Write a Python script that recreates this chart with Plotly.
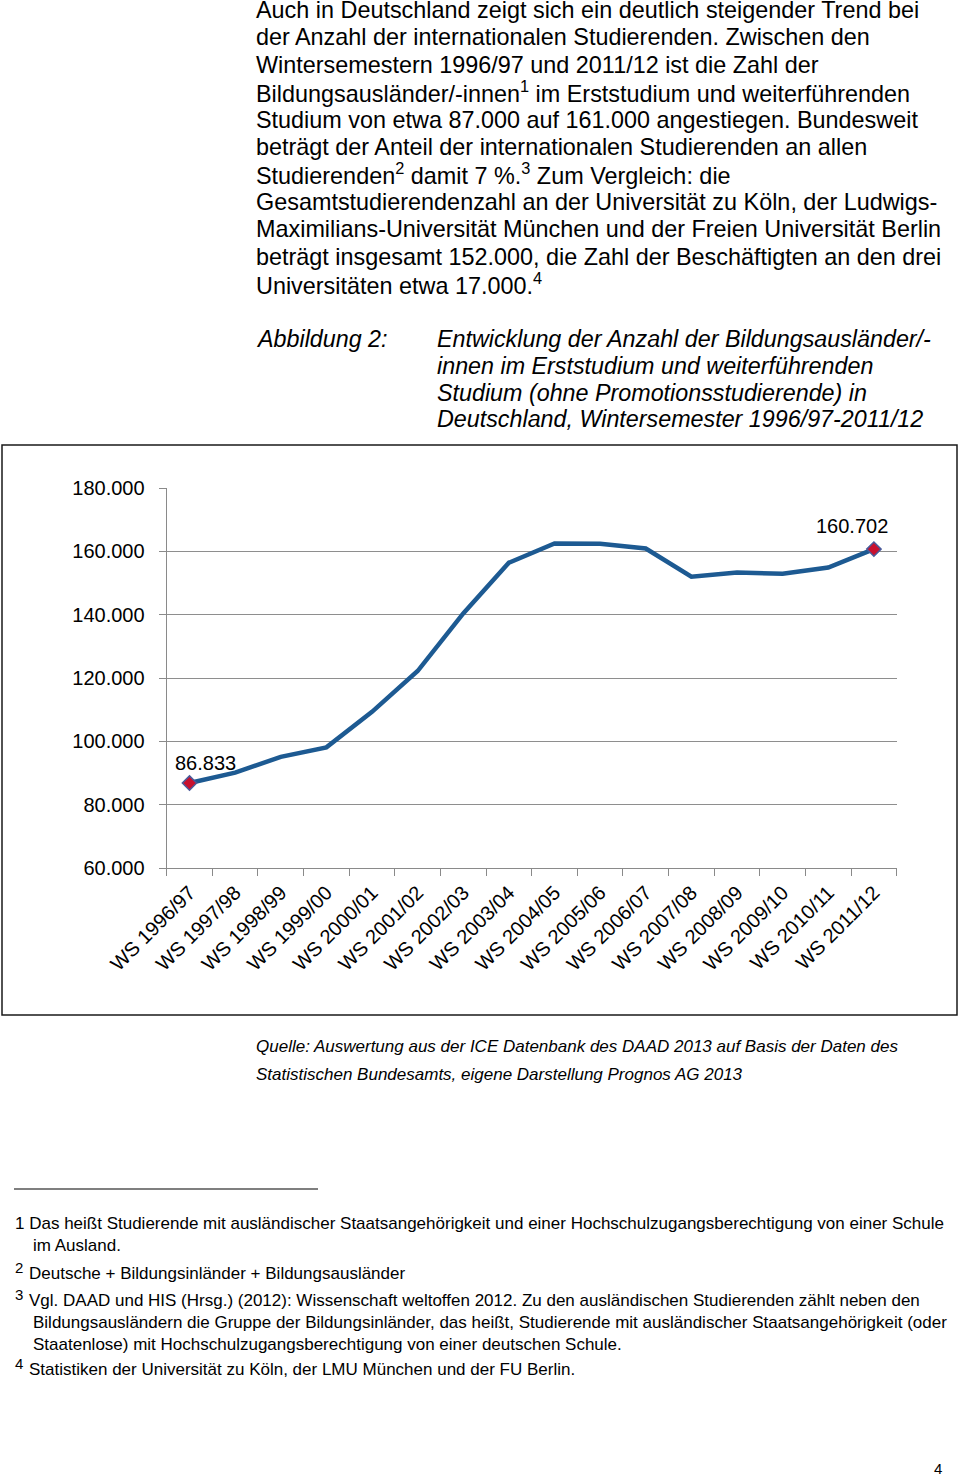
import plotly.graph_objects as go

W, H = 960, 1477

categories = ["WS 1996/97", "WS 1997/98", "WS 1998/99", "WS 1999/00", "WS 2000/01",
              "WS 2001/02", "WS 2002/03", "WS 2003/04", "WS 2004/05", "WS 2005/06",
              "WS 2006/07", "WS 2007/08", "WS 2008/09", "WS 2009/10", "WS 2010/11",
              "WS 2011/12"]
values = [86833, 90100, 95100, 98100, 109300, 122200, 140400, 156400, 162500, 162400,
          160900, 152000, 153300, 152900, 154900, 160702]
y_ticks = [60000, 80000, 100000, 120000, 140000, 160000, 180000]

body_lines = [
    "Auch in Deutschland zeigt sich ein deutlich steigender Trend bei",
    "der Anzahl der internationalen Studierenden. Zwischen den",
    "Wintersemestern 1996/97 und 2011/12 ist die Zahl der",
    "Bildungsausländer/-innen<sup>1</sup> im Erststudium und weiterführenden",
    "Studium von etwa 87.000 auf 161.000 angestiegen. Bundesweit",
    "beträgt der Anteil der internationalen Studierenden an allen",
    "Studierenden<sup>2</sup> damit 7 %.<sup>3</sup> Zum Vergleich: die",
    "Gesamtstudierendenzahl an der Universität zu Köln, der Ludwigs-",
    "Maximilians-Universität München und der Freien Universität Berlin",
    "beträgt insgesamt 152.000, die Zahl der Beschäftigten an den drei",
    "Universitäten etwa 17.000.<sup>4</sup>",
]
caption_label = "Abbildung 2:"
caption_lines = [
    "Entwicklung der Anzahl der Bildungsausländer/-",
    "innen im Erststudium und weiterführenden",
    "Studium (ohne Promotionsstudierende) in",
    "Deutschland, Wintersemester 1996/97-2011/12",
]
source_lines = [
    "Quelle: Auswertung aus der ICE Datenbank des DAAD 2013 auf Basis der Daten des",
    "Statistischen Bundesamts, eigene Darstellung Prognos AG 2013",
]
footnotes = [
    ("1", "Das heißt Studierende mit ausländischer Staatsangehörigkeit und einer Hochschulzugangsberechtigung von einer Schule",
     ["im Ausland."], False),
    ("2", "Deutsche + Bildungsinländer + Bildungsausländer", [], True),
    ("3", "Vgl. DAAD und HIS (Hrsg.) (2012): Wissenschaft weltoffen 2012. Zu den ausländischen Studierenden zählt neben den",
     ["Bildungsausländern die Gruppe der Bildungsinländer, das heißt, Studierende mit ausländischer Staatsangehörigkeit (oder",
      "Staatenlose) mit Hochschulzugangsberechtigung von einer deutschen Schule."], True),
    ("4", "Statistiken der Universität zu Köln, der LMU München und der FU Berlin.", [], True),
]
page_number = "4"

FONT = "Liberation Sans, Arial, sans-serif"


def px(x):
    return x / W


def py(y):
    return 1 - y / H


def de(v):
    return f"{v:,}".replace(",", ".")


fig = go.Figure()
fig.add_trace(go.Scatter(
    x=categories, y=values, mode="lines",
    line=dict(color="#1D5A92", width=4.5),
    hoverinfo="skip", showlegend=False,
))
end_idx = [0, len(values) - 1]
fig.add_trace(go.Scatter(
    x=[categories[i] for i in end_idx], y=[values[i] for i in end_idx], mode="markers",
    marker=dict(symbol="diamond", size=11, color="#C8102E",
                line=dict(color="#4A5A9A", width=1.5)),
    hoverinfo="skip", showlegend=False,
))

annotations = []
# data labels
for i, xs, ys in [(0, 16, 20), (len(values) - 1, -22, 23)]:
    annotations.append(dict(
        x=categories[i], y=values[i], xref="x", yref="y", text=de(values[i]),
        showarrow=False, xshift=xs, yshift=ys,
        font=dict(family=FONT, size=20, color="#000000"),
    ))

BODY_X = 254
body_y0, body_dy = 10, 27.4
for k, line in enumerate(body_lines):
    annotations.append(dict(
        x=px(BODY_X), y=py(body_y0 + k * body_dy), xref="paper", yref="paper",
        xanchor="left", yanchor="middle", text=line, showarrow=False,
        font=dict(family=FONT, size=23.4, color="#000000"),
    ))

annotations.append(dict(
    x=px(BODY_X), y=py(339), xref="paper", yref="paper", xanchor="left", yanchor="middle",
    text=f"<i>{caption_label}</i>", showarrow=False,
    font=dict(family=FONT, size=23.3, color="#000000"),
))
for k, line in enumerate(caption_lines):
    annotations.append(dict(
        x=px(435), y=py(339 + k * 26.8), xref="paper", yref="paper",
        xanchor="left", yanchor="middle", text=f"<i>{line}</i>", showarrow=False,
        font=dict(family=FONT, size=23.3, color="#000000"),
    ))

for k, line in enumerate(source_lines):
    annotations.append(dict(
        x=px(BODY_X), y=py(1046 + k * 28), xref="paper", yref="paper",
        xanchor="left", yanchor="middle", text=f"<i>{line}</i>", showarrow=False,
        font=dict(family=FONT, size=17, color="#000000"),
    ))

fn_y = {"1": 1223, "2": 1273, "3": 1300, "4": 1369}
for num, first, rest, sup in footnotes:
    y0 = fn_y[num]
    if sup:
        annotations.append(dict(
            x=px(13), y=py(y0 - 6), xref="paper", yref="paper", xanchor="left",
            yanchor="middle", text=num, showarrow=False,
            font=dict(family=FONT, size=15, color="#000000"),
        ))
        annotations.append(dict(
            x=px(27), y=py(y0), xref="paper", yref="paper", xanchor="left",
            yanchor="middle", text=first, showarrow=False,
            font=dict(family=FONT, size=17, color="#000000"),
        ))
    else:
        annotations.append(dict(
            x=px(13), y=py(y0), xref="paper", yref="paper", xanchor="left",
            yanchor="middle", text=f"{num} {first}", showarrow=False,
            font=dict(family=FONT, size=17, color="#000000"),
        ))
    for j, r in enumerate(rest):
        annotations.append(dict(
            x=px(31), y=py(y0 + (j + 1) * 22), xref="paper", yref="paper",
            xanchor="left", yanchor="middle", text=r, showarrow=False,
            font=dict(family=FONT, size=17, color="#000000"),
        ))

annotations.append(dict(
    x=px(938), y=py(1468), xref="paper", yref="paper", xanchor="center", yanchor="middle",
    text=page_number, showarrow=False, font=dict(family=FONT, size=15, color="#000000"),
))

shapes = [
    dict(type="rect", xref="paper", yref="paper", x0=px(2), x1=px(957), y0=py(445), y1=py(1015),
         line=dict(color="#1a1a1a", width=1.5), fillcolor="rgba(0,0,0,0)", layer="below"),
    dict(type="line", xref="paper", yref="paper", x0=px(14), x1=px(318), y0=py(1189), y1=py(1189),
         line=dict(color="#000000", width=1.2)),
]

fig.update_layout(
    width=W, height=H, margin=dict(l=0, r=0, t=0, b=0, autoexpand=False),
    paper_bgcolor="white", plot_bgcolor="white",
    separators=",.",
    font=dict(family=FONT, color="#000000"),
    xaxis=dict(
        domain=[px(166.7), px(896.7)], anchor="y", type="category",
        range=[-0.5, len(categories) - 0.5], automargin=False,
        tickson="boundaries", ticks="outside", ticklen=7, tickcolor="#8A8A8A", tickwidth=1.2,
        showline=True, linecolor="#8A8A8A", linewidth=1.2, showgrid=False,
        tickangle=-45, tickfont=dict(family=FONT, size=20, color="#000000"),
        ticklabelstandoff=4, fixedrange=True,
    ),
    yaxis=dict(
        domain=[py(868), py(488)], anchor="x", range=[60000, 180000], automargin=False,
        tickvals=y_ticks, tickformat=",d",
        ticks="outside", ticklen=7, tickcolor="#8A8A8A", tickwidth=1.2,
        showline=True, linecolor="#8A8A8A", linewidth=1.2,
        showgrid=True, gridcolor="#8E8E8E", gridwidth=1.2, zeroline=False,
        tickfont=dict(family=FONT, size=20, color="#000000"),
        ticklabelstandoff=10, fixedrange=True,
    ),
    annotations=annotations, shapes=shapes,
)

fig.write_html("out.html", config={"displayModeBar": False},
               post_script="document.body.style.margin='0px';document.body.style.overflow='hidden';")
